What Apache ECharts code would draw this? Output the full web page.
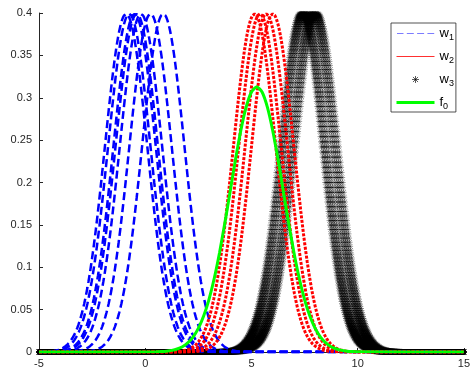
<!DOCTYPE html>
<html><head><meta charset="utf-8">
<script src="https://cdn.jsdelivr.net/npm/echarts@6/dist/echarts.min.js"></script>
<style>html,body{margin:0;padding:0;background:#fff}#c{width:473px;height:371px}</style>
</head><body><div id="c"></div>
<script>
// ---- data ----
const xTicks = [-5, 0, 5, 10, 15];
const yTicks = [0, 0.05, 0.1, 0.15, 0.2, 0.25, 0.3, 0.35, 0.4];
const seriesNames = ['w1', 'w2', 'w3', 'f0'];
// bell-curve height read at offsets 0, 0.025, 0.05, ... 3.975 from each curve's centre
const profileStep = 0.025;
const bellProfile = [
  0.3989,0.3988,0.3984,0.3978,0.3970,0.3958,0.3945,0.3929,0.3910,0.3890,
  0.3867,0.3841,0.3814,0.3784,0.3752,0.3719,0.3683,0.3645,0.3605,0.3564,
  0.3521,0.3476,0.3429,0.3382,0.3332,0.3282,0.3230,0.3177,0.3123,0.3067,
  0.3011,0.2955,0.2897,0.2839,0.2780,0.2721,0.2661,0.2601,0.2541,0.2480,
  0.2420,0.2359,0.2299,0.2239,0.2179,0.2119,0.2059,0.2000,0.1942,0.1884,
  0.1826,0.1770,0.1714,0.1658,0.1604,0.1550,0.1497,0.1445,0.1394,0.1344,
  0.1295,0.1247,0.1200,0.1154,0.1109,0.1065,0.1023,0.0981,0.0940,0.0901,
  0.0863,0.0826,0.0790,0.0754,0.0721,0.0688,0.0656,0.0625,0.0596,0.0567,
  0.0540,0.0513,0.0488,0.0463,0.0440,0.0417,0.0396,0.0375,0.0355,0.0336,
  0.0317,0.0300,0.0283,0.0267,0.0252,0.0238,0.0224,0.0211,0.0198,0.0187,
  0.0175,0.0165,0.0154,0.0145,0.0136,0.0127,0.0119,0.0112,0.0104,0.0097,
  0.0091,0.0085,0.0079,0.0074,0.0069,0.0064,0.0060,0.0055,0.0051,0.0048,
  0.0044,0.0041,0.0038,0.0035,0.0033,0.0030,0.0028,0.0026,0.0024,0.0022,
  0.0020,0.0019,0.0017,0.0016,0.0015,0.0013,0.0012,0.0011,0.0010,0.0010,
  0.0009,0.0008,0.0007,0.0007,0.0006,0.0006,0.0005,0.0005,0.0004,0.0004,
  0.0004,0.0003,0.0003,0.0003,0.0002,0.0002,0.0002,0.0002,0.0002,0.0001];
// centres of the individual curves of each class
const w1Centres = [-0.9, -0.75, -0.5, -0.4, -0.2, 0.25, 0.85];
const w2Centres = [5.15, 5.4, 5.7, 6.0];
const w3Centres = [7.3, 7.37, 7.45, 7.53, 7.62, 7.75, 7.85, 7.93, 8.02, 8.12];
// f0 curve, sampled every 0.25 from x = 0.5 to x = 10
const f0Start = 0.5, f0Step = 0.25;
const f0Values = [0.0002,0.0005,0.001,0.0019,0.0035,0.0062,0.0107,0.0176,0.0278,0.0424,
  0.0619,0.0870,0.1175,0.1524,0.1898,0.2273,0.2614,0.2889,0.3068,0.313,
  0.3068,0.2889,0.2614,0.2273,0.1898,0.1524,0.1175,0.0870,0.0619,0.0424,
  0.0278,0.0176,0.0107,0.0062,0.0035,0.0019,0.001,0.0005,0.0002];

// ---- build chart ----
const X_MIN = xTicks[0], X_MAX = xTicks[xTicks.length - 1];
function bellPoints(c) {
  const pts = [];
  const kMin = Math.ceil((X_MIN - c) / profileStep - 1e-9);
  const kMax = Math.floor((X_MAX - c) / profileStep + 1e-9);
  for (let k = kMin; k <= kMax; k++) {
    const a = Math.abs(k);
    pts.push([+(c + k * profileStep).toFixed(4), a < bellProfile.length ? bellProfile[a] : 0]);
  }
  return pts;
}
const f0Points = [[X_MIN, 0]].concat(f0Values.map((v, i) => [f0Start + i * f0Step, v]), [[X_MAX, 0]]);

const ASTERISK = 'path://M0,-2L0,2M-2,0L2,0M-1.45,-1.45L1.45,1.45M-1.45,1.45L1.45,-1.45';
const W1_ICON = 'image://data:image/svg+xml;charset=utf-8,' + encodeURIComponent(
  "<svg xmlns='http://www.w3.org/2000/svg' width='38' height='7'><g fill='#7c7cff'>" +
  "<rect x='0' y='3' width='7' height='1'/><rect x='10.3' y='3' width='7' height='1'/>" +
  "<rect x='20.6' y='3' width='7' height='1'/><rect x='30.9' y='3' width='7' height='1'/></g></svg>");
const series = [];
w1Centres.forEach(c => series.push({
  name: seriesNames[0], type: 'line', data: bellPoints(c), symbol: 'none', showSymbol: false,
  lineStyle: { color: '#0000ff', width: 2.5, type: [8, 4] }, itemStyle: { color: '#0000ff' }
}));
w2Centres.forEach(c => series.push({
  name: seriesNames[1], type: 'line', data: bellPoints(c), symbol: 'none', showSymbol: false,
  lineStyle: { color: '#ff0000', width: 3, type: [3, 1.5] }, itemStyle: { color: '#ff0000' }
}));
w3Centres.forEach(c => series.push({
  name: seriesNames[2], type: 'scatter', data: bellPoints(c), symbol: ASTERISK, symbolSize: 6,
  large: false, itemStyle: { color: 'rgba(0,0,0,0)', borderColor: '#000', borderWidth: 0.5 }
}));
series.push({
  name: seriesNames[3], type: 'line', data: f0Points, symbol: 'none', showSymbol: false, smooth: 0.2,
  lineStyle: { color: '#00ff00', width: 3 }, itemStyle: { color: '#00ff00' }
});

const axisCol = '#262626';
const FONT = 'Liberation Sans, Arial, Helvetica, sans-serif';
const chart = echarts.init(document.getElementById('c'), null, { renderer: 'canvas' });
chart.setOption({
  animation: false,
  backgroundColor: '#fff',
  grid: { left: 39, right: 6, top: 13, bottom: 19 },
  xAxis: {
    type: 'value', min: X_MIN, max: X_MAX, interval: xTicks[1] - xTicks[0],
    axisLine: { show: true, onZero: false, lineStyle: { color: axisCol, width: 1 } },
    axisTick: { show: true, inside: true, length: 4, lineStyle: { color: axisCol } },
    axisLabel: { color: axisCol, fontSize: 11, fontFamily: FONT, margin: 6 },
    splitLine: { show: false }
  },
  yAxis: {
    type: 'value', min: yTicks[0], max: yTicks[yTicks.length - 1], interval: yTicks[1] - yTicks[0],
    axisLine: { show: true, onZero: false, lineStyle: { color: axisCol, width: 1 } },
    axisTick: { show: true, inside: true, length: 4, lineStyle: { color: axisCol } },
    axisLabel: { color: axisCol, fontSize: 11, fontFamily: FONT, margin: 7,
      formatter: v => String(+v.toFixed(2)) },
    splitLine: { show: false }
  },
  legend: {
    orient: 'vertical', left: 391, top: 23,
    backgroundColor: '#fff', borderColor: axisCol, borderWidth: 0.8, borderRadius: 0,
    padding: [4, 2, 1, 4], itemWidth: 38, itemHeight: 7, itemGap: 8,
    formatter: n => '{a|' + n[0] + '}{s|' + n.slice(1) + '}',
    textStyle: { color: '#000', fontFamily: FONT,
      rich: { a: { fontSize: 13, fontFamily: FONT, color: '#000' },
              s: { fontSize: 9, fontFamily: FONT, color: '#000', padding: [8, 0, 0, 0] } } },
    data: [
      { name: 'w1', icon: W1_ICON },
      { name: 'w2', lineStyle: { color: '#ff3030', width: 1, type: 'solid' }, itemStyle: { opacity: 0 } },
      { name: 'w3', icon: ASTERISK, itemStyle: { color: 'rgba(0,0,0,0)', borderColor: '#000', borderWidth: 0.8 } },
      { name: 'f0', lineStyle: { color: '#00ff00', width: 3 }, itemStyle: { opacity: 0 } }
    ]
  },
  series: series
});
</script></body></html>
